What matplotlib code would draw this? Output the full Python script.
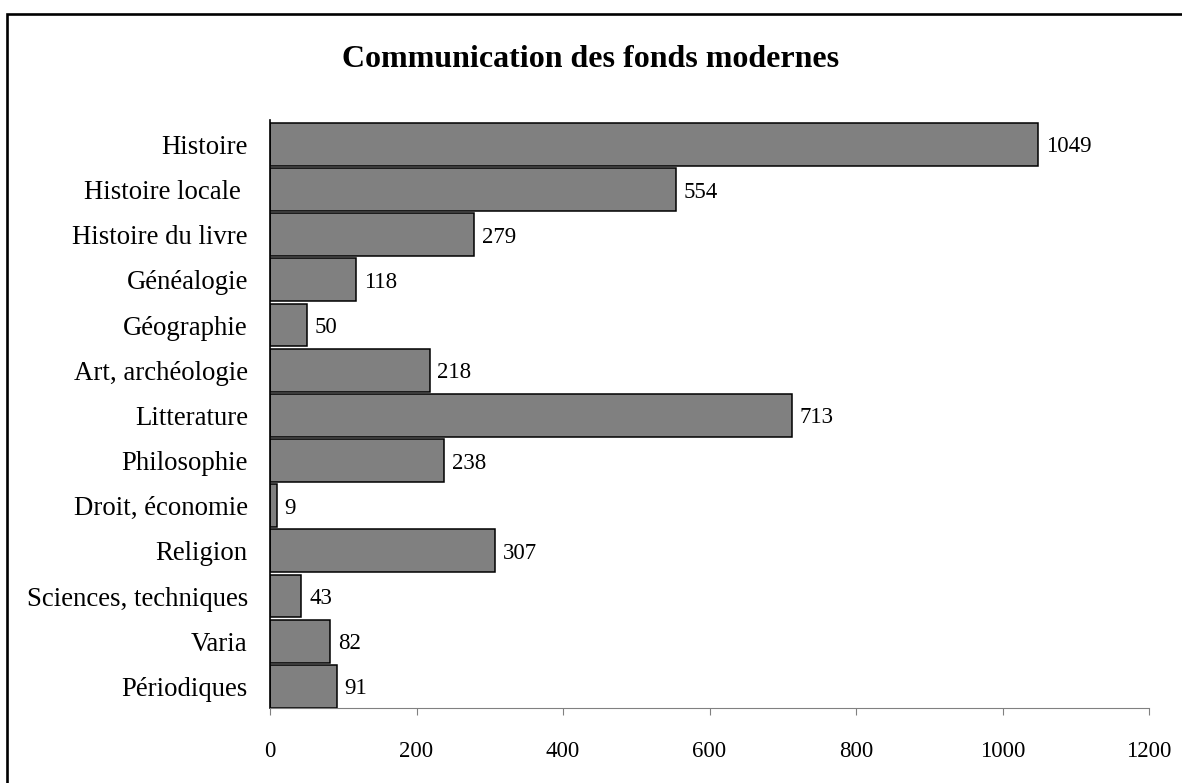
import matplotlib
matplotlib.use("Agg")
import matplotlib.pyplot as plt
from matplotlib.patches import Rectangle

# data, top to bottom as in the chart
categories = ["Histoire", "Histoire locale ", "Histoire du livre", "Généalogie",
              "Géographie", "Art, archéologie", "Litterature", "Philosophie",
              "Droit, économie", "Religion", "Sciences, techniques", "Varia",
              "Périodiques"]
counts = [1049, 554, 279, 118, 50, 218, 713, 238, 9, 307, 43, 82, 91]
xticks = [0, 200, 400, 600, 800, 1000, 1200]

plt.rcParams['font.family'] = ['Liberation Serif', 'DejaVu Serif']

fig = plt.figure(figsize=(11.82, 7.83), dpi=100)
ax = fig.add_axes([270 / 1182, 1 - 708 / 783, (1149 - 270) / 1182, (708 - 120) / 783])

pos = list(range(len(categories)))
bars = ax.barh(pos, counts, height=0.95, color='#808080',
               edgecolor='black', linewidth=1.1)
labels = ax.bar_label(bars, labels=[str(c) for c in counts], padding=5.5,
                      fontsize=16.5)
for t in labels:
    t.set_va('center_baseline')

ax.set_ylim(12.48, -0.54)
ax.set_xlim(0, 1200)
ax.set_yticks(pos)
ax.set_yticklabels(categories, fontsize=19.3)
ax.tick_params(axis='y', length=0, pad=16)
ax.set_xticks(xticks)
ax.set_xticklabels([str(t) for t in xticks], fontsize=16.5)
ax.tick_params(axis='x', length=5, color='#808080', pad=19)
ax.get_xticklines()[0].set_color('black')

for side in ['top', 'right']:
    ax.spines[side].set_visible(False)
ax.spines['bottom'].set_color('#808080')
ax.spines['left'].set_color('black')
ax.spines['left'].set_linewidth(1.2)

fig.text(0.5, 1 - 67 / 783, "Communication des fonds modernes",
         ha='center', va='baseline', fontsize=23, fontweight='bold')

# outer frame (runs off the right and bottom edges)
fig.patches.append(Rectangle((7 / 1182, -0.05), 1.2, 1 - 13.5 / 783 + 0.05,
                             transform=fig.transFigure, fill=False,
                             edgecolor='black', linewidth=1.9))

fig.savefig("out.png", dpi=100)
